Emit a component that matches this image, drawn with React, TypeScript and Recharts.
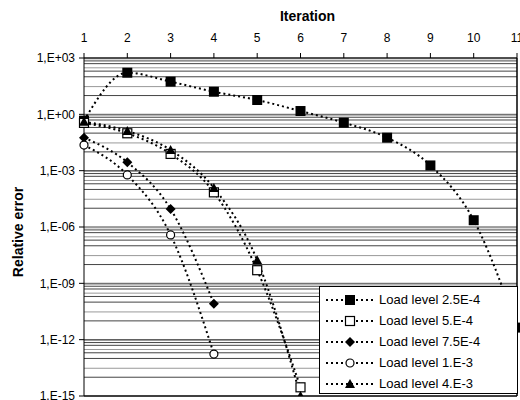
import React from 'react';
import {
  LineChart,
  Line,
  XAxis,
  YAxis,
  ReferenceLine,
} from 'recharts';

// iterations on the top axis
const iterations = [1, 2, 3, 4, 5, 6, 7, 8, 9, 10, 11];
const xTickLabels = ['1', '2', '3', '4', '5', '6', '7', '8', '9', '10', '11'];

// relative error per load level
const load25 = [0.46, 165, 55, 16, 5.8, 1.5, 0.36, 0.057, 0.0019, 2.3e-6, 4.4e-12];
const load50 = [0.35, 0.098, 0.0078, 7e-5, 5e-9, 2.9e-15];
const load75 = [0.057, 0.0028, 9e-6, 8.3e-11];
const load100 = [0.023, 5.9e-4, 3.8e-7, 1.7e-13];
const load400 = [0.4, 0.13, 0.0125, 1.2e-4, 1.7e-8, 1e-15];

const yTicks = [1e3, 1, 1e-3, 1e-6, 1e-9, 1e-12, 1e-15];
const yTickLabels = ['1,E+03', '1,E+00', '1,E-03', '1,E-06', '1,E-09', '1,E-12', '1,E-15'];

// minor grid inside each 3-decade band, as fractions of the band's top value
const gridFractions = [1, 0.9, 0.7, 0.5, 0.3, 0.2, 0.1, 0.03, 0.01];
const gridBandTops = [1e3, 1, 1e-3, 1e-6, 1e-9, 1e-12];

const series = [
  { key: 'l25', name: 'Load level 2.5E-4', values: load25, marker: 'fsquare' },
  { key: 'l50', name: 'Load level 5.E-4', values: load50, marker: 'osquare' },
  { key: 'l75', name: 'Load level 7.5E-4', values: load75, marker: 'diamond' },
  { key: 'l100', name: 'Load level 1.E-3', values: load100, marker: 'circle' },
  { key: 'l400', name: 'Load level 4.E-3', values: load400, marker: 'triangle' },
];

const data = iterations.map((it, i) => {
  const row: Record<string, number | undefined> = { it };
  series.forEach((s) => {
    row[s.key] = s.values[i];
  });
  return row;
});

const gridValues: number[] = [];
gridBandTops.forEach((top) => {
  gridFractions.forEach((f) => {
    gridValues.push(Number((top * f).toPrecision(3)));
  });
});

const FONT = '"Liberation Sans", Arial, sans-serif';

function Marker({ kind, cx, cy }: { kind: string; cx: number; cy: number }) {
  if (kind === 'fsquare') {
    return <rect x={cx - 5} y={cy - 5} width={10} height={10} fill="#000" />;
  }
  if (kind === 'osquare') {
    return <rect x={cx - 4.5} y={cy - 4.5} width={9} height={9} fill="#fff" stroke="#000" strokeWidth={1.2} />;
  }
  if (kind === 'diamond') {
    return <polygon points={`${cx},${cy - 5} ${cx + 5},${cy} ${cx},${cy + 5} ${cx - 5},${cy}`} fill="#000" />;
  }
  if (kind === 'circle') {
    return <circle cx={cx} cy={cy} r={4} fill="#fff" stroke="#000" strokeWidth={1.2} />;
  }
  return <polygon points={`${cx},${cy - 5} ${cx + 5},${cy + 4} ${cx - 5},${cy + 4}`} fill="#000" />;
}

const makeDot = (kind: string) => (props: any) => {
  const { cx, cy, index } = props;
  if (cx == null || cy == null || props.value == null) return <g key={index} />;
  return (
    <g key={index}>
      <Marker kind={kind} cx={cx} cy={cy} />
    </g>
  );
};

function LegendBox() {
  return (
    <div
      style={{
        position: 'absolute',
        left: 319,
        top: 286,
        background: '#fff',
        border: '1px solid #000',
        width: 199,
        height: 108,
        boxSizing: 'border-box',
        paddingTop: 2,
        fontFamily: FONT,
        fontSize: 13,
        color: '#000',
      }}
    >
      {series.map((s) => (
        <div key={s.key} style={{ display: 'flex', alignItems: 'center', height: 21 }}>
          <svg width={52} height={14} style={{ marginLeft: 4 }}>
            <line x1={2} y1={7} x2={50} y2={7} stroke="#000" strokeWidth={2} strokeDasharray="2 3" />
            <Marker kind={s.marker} cx={26} cy={7} />
          </svg>
          <span style={{ marginLeft: 3 }}>{s.name}</span>
        </div>
      ))}
    </div>
  );
}

export default function App() {
  return (
    <div
      style={{
        position: 'absolute',
        left: 0,
        top: 0,
        width: 520,
        height: 400,
        overflow: 'hidden',
        background: '#fff',
      }}
    >
      <LineChart
        width={530}
        height={404}
        data={data}
        margin={{ top: 0, right: 13, bottom: 8, left: 0 }}
      >
        {gridValues.map((v, i) => (
          <ReferenceLine key={v} y={v} stroke={i % 3 === 1 ? '#999' : '#444'} strokeWidth={1} />
        ))}
        <ReferenceLine y={1e-15} stroke="#000" strokeWidth={1.5} />
        <ReferenceLine x={11} stroke="#000" strokeWidth={1.5} />
        <XAxis
          dataKey="it"
          type="number"
          orientation="top"
          domain={[1, 11]}
          ticks={iterations}
          tickFormatter={(v: number) => xTickLabels[iterations.indexOf(v)]}
          height={58}
          tickSize={5}
          tickMargin={11}
          stroke="#000"
          tick={{ fill: '#000', fontSize: 12, fontFamily: FONT }}
          label={{
            value: 'Iteration',
            position: 'insideTop',
            offset: 11,
            dx: 7,
            fill: '#000',
            fontSize: 14,
            fontWeight: 'bold',
            fontFamily: FONT,
          }}
        />
        <YAxis
          scale="log"
          domain={[1e-15, 1e3]}
          allowDataOverflow
          ticks={yTicks}
          tickFormatter={(v: number) => yTickLabels[yTicks.indexOf(v)]}
          width={84}
          tickSize={5}
          tickMargin={4}
          stroke="#000"
          tick={{ fill: '#000', fontSize: 12, fontFamily: FONT }}
          label={{
            value: 'Relative error',
            angle: -90,
            position: 'insideLeft',
            offset: 18,
            dy: 5,
            style: { textAnchor: 'middle' },
            fill: '#000',
            fontSize: 14,
            fontWeight: 'bold',
            fontFamily: FONT,
          }}
        />
        {series.map((s) => (
          <Line
            key={s.key}
            dataKey={s.key}
            name={s.name}
            type="monotone"
            stroke="#000"
            strokeWidth={2}
            strokeDasharray="2 3"
            dot={makeDot(s.marker)}
            activeDot={false}
            isAnimationActive={false}
          />
        ))}
      </LineChart>
      <LegendBox />
    </div>
  );
}
